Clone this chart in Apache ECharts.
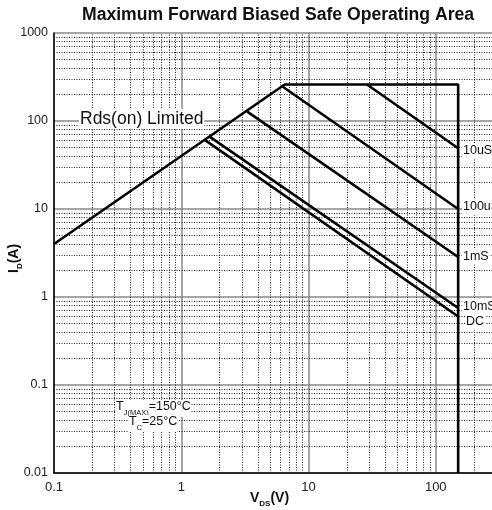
<!DOCTYPE html>
<html><head><meta charset="utf-8">
<script src="https://cdn.jsdelivr.net/npm/echarts@6/dist/echarts.min.js"></script>
<style>html,body{margin:0;padding:0;background:#fff;overflow:hidden}#c{width:600px;height:510px}</style>
</head><body><div id="c"></div>
<script>
// ---- data ----
const xTicks = [0.1, 1, 10, 100, 1000];
const xTickLabels = ['0.1', '1', '10', '100', '1000'];
const yTicks = [0.01, 0.1, 1, 10, 100, 1000];
const yTickLabels = ['0.01', '0.1', '1', '10', '100', '1000'];
const xDecades = [0.1, 1, 10, 100];
const yDecades = [0.01, 0.1, 1, 10, 100];
const minorMultipliers = [2, 3, 4, 5, 6, 7, 8, 9];
const soaBoundary = [[0.1, 4], [6.5, 260], [150, 260], [150, 0.01]];
const line10us = [[28.8, 260], [150, 49]];
const line100us = [[6.2, 248], [150, 10]];
const line1ms = [[3.3, 128], [150, 2.85]];
const line10ms = [[1.68, 66], [150, 0.75]];
const lineDC = [[1.53, 61], [150, 0.6]];
const curveLabels = ['10uS', '100uS', '1mS', '10mS', 'DC'];

function tickLabel(v, ticks, labels) {
  for (let i = 0; i < ticks.length; i++) {
    if (Math.abs(Math.log10(v) - Math.log10(ticks[i])) < 1e-6) return labels[i];
  }
  return '';
}
const xMinor = [], yMinor = [];
xDecades.forEach(d => minorMultipliers.forEach(m => xMinor.push({ xAxis: d * m })));
yDecades.forEach(d => minorMultipliers.forEach(m => yMinor.push({ yAxis: d * m })));

const FONT = 'Arial, "Liberation Sans", sans-serif';
const chart = echarts.init(document.getElementById('c'), null, { renderer: 'canvas' });

function curve(data) {
  return {
    type: 'line', data: data, symbol: 'none', z: 5, silent: true, animation: false,
    lineStyle: { color: '#000', width: 2.6 }
  };
}

function txt(x, y, text, size, bg, align) {
  return {
    type: 'text', x: x, y: y, z: 100,
    style: {
      text: text, font: size + 'px ' + FONT, fill: '#111',
      align: align || 'left', textAlign: align || 'left',
      verticalAlign: 'middle', textVerticalAlign: 'middle',
      backgroundColor: bg ? '#fff' : null, padding: bg ? [1, 1] : 0
    }
  };
}

function subText(x, y, parts, size, subSize, bold, lh, rot, bg) {
  const w = bold ? 'bold ' : '';
  return {
    type: 'text', x: x, y: y, z: 100, rotation: rot || 0,
    style: {
      text: '{a|' + parts[0] + '}{s|' + parts[1] + '}{a|' + parts[2] + '}',
      backgroundColor: bg ? '#fff' : null,
      rich: {
        a: { font: w + size + 'px ' + FONT, fill: '#111', lineHeight: lh, verticalAlign: 'top' },
        s: { font: w + subSize + 'px ' + FONT, fill: '#111', lineHeight: lh, verticalAlign: 'bottom' }
      }
    }
  };
}

const option = {
  animation: false,
  backgroundColor: '#fff',
  title: {
    text: 'Maximum Forward Biased Safe Operating Area',
    left: 77, top: 1,
    textStyle: { fontFamily: FONT, fontWeight: 'bold', fontSize: 17.6, color: '#111' }
  },
  grid: { left: 54, top: 33, width: 509, height: 440, containLabel: false },
  xAxis: {
    type: 'log', logBase: 10, min: 0.1, max: 1000,
    axisLine: { show: true, onZero: false, lineStyle: { color: '#000', width: 1.5 } },
    axisTick: { show: false },
    axisLabel: {
      margin: 8, fontSize: 13, color: '#222', fontFamily: FONT,
      formatter: v => tickLabel(v, xTicks, xTickLabels)
    },
    splitLine: { show: true, lineStyle: { color: '#888', width: 1.5 } },
    minorTick: { show: false }, minorSplitLine: { show: false }
  },
  yAxis: {
    type: 'log', logBase: 10, min: 0.01, max: 1000,
    axisLine: { show: true, onZero: false, lineStyle: { color: '#000', width: 1.5 } },
    axisTick: { show: false },
    axisLabel: {
      margin: 6, fontSize: 12.5, color: '#222', fontFamily: FONT,
      formatter: v => tickLabel(v, yTicks, yTickLabels)
    },
    splitLine: { show: true, lineStyle: { color: '#888', width: 1.5 } },
    minorTick: { show: false }, minorSplitLine: { show: false }
  },
  series: [
    {
      type: 'line', data: [], silent: true, z: 1,
      markLine: {
        silent: true, symbol: ['none', 'none'], animation: false,
        label: { show: false },
        lineStyle: { color: '#222', type: [1, 1.5], width: 1 },
        emphasis: { disabled: true },
        data: xMinor.concat(yMinor)
      }
    },
    curve(soaBoundary),
    curve(line10us),
    curve(line100us),
    curve(line1ms),
    curve(line10ms),
    curve(lineDC)
  ],
  graphic: [
    txt(79, 119, 'Rds(on) Limited', 17.5, true),
    txt(462, 151, curveLabels[0], 12.5, true),
    txt(462, 207, curveLabels[1], 12.5, true),
    txt(462, 257, curveLabels[2], 12.5, true),
    txt(462, 307, curveLabels[3], 12.5, true),
    txt(465, 322, curveLabels[4], 12.5, true),
    subText(116, 400, ['T', 'J(MAX)', '=150°C'], 12.5, 7.5, false, 17, 0, true),
    subText(129, 415, ['T', 'C', '=25°C'], 12.5, 7.5, false, 17, 0, true),
    subText(250, 491, ['V', 'DS', '(V)'], 14, 8, true, 17, 0, false),
    subText(7, 273, ['I', 'D', '(A)'], 14, 8, true, 17, Math.PI / 2, false)
  ]
};
chart.setOption(option);
</script>
</body></html>
